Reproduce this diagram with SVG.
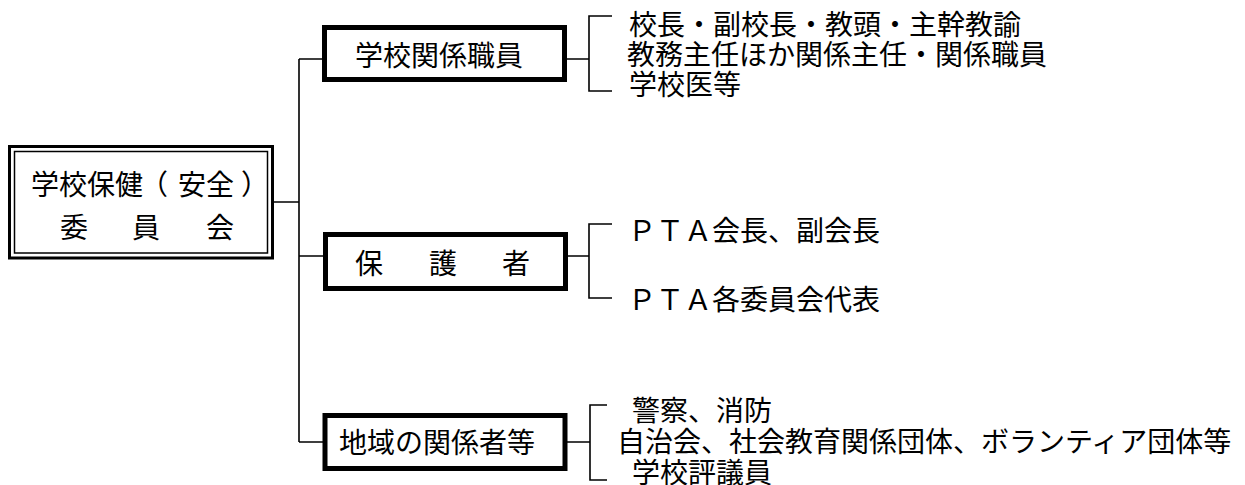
<svg xmlns="http://www.w3.org/2000/svg" width="1245" height="485" viewBox="0 0 1245 485">
<style>
text{font-family:"Noto Sans CJK JP","Noto Sans CJK SC",sans-serif;font-size:28px;fill:#000}
.ln{stroke:#000;stroke-width:1.6;fill:none}
.box{fill:#fff;stroke:#000;stroke-width:5}
</style>
<rect width="1245" height="485" fill="#fff"/>
<g id="connectors">
<path class="ln" d="M274 202H299M299 59V442M299 59H323M299 256H324M299 442H323"/>
<path class="ln" d="M567 59H589M612 16H589V91H612"/>
<path class="ln" d="M568 256H589M612 224H589V298H612"/>
<path class="ln" d="M567 442H590M607 405H590V480H607"/>
</g>
<g id="root">
<rect x="9.5" y="146.5" width="263" height="111.5" fill="#fff" stroke="#000" stroke-width="3"/>
<rect x="14.5" y="151.5" width="253" height="101.5" fill="none" stroke="#000" stroke-width="1.5"/>
<text y="195" x="31 59 87 115 140 178 206 241">学校保健（安全）</text>
<text y="238" x="60 96 132 169 206">委　員　会</text>
</g>
<g id="n1">
<rect class="box" x="324.5" y="27.5" width="240" height="52"/>
<text x="355" y="66">学校関係職員</text>
</g>
<g id="n2">
<rect class="box" x="325.5" y="234.5" width="240" height="54"/>
<text y="274" x="355 392 429 466 502">保　護　者</text>
</g>
<g id="n3">
<rect class="box" x="325" y="415.5" width="240" height="53"/>
<text x="339" y="453">地域の関係者等</text>
</g>
<g id="list1">
<text x="629" y="35">校長・副校長・教頭・主幹教諭</text>
<text x="627" y="65">教務主任ほか関係主任・関係職員</text>
<text x="629" y="95">学校医等</text>
</g>
<g id="list2">
<text x="628" y="241">ＰＴＡ会長、副会長</text>
<text x="628" y="310">ＰＴＡ各委員会代表</text>
</g>
<g id="list3">
<text x="632" y="421">警察、消防</text>
<text x="617" y="452">自治会、社会教育関係団体、ボランティア団体等</text>
<text x="632" y="483">学校評議員</text>
</g>
</svg>
